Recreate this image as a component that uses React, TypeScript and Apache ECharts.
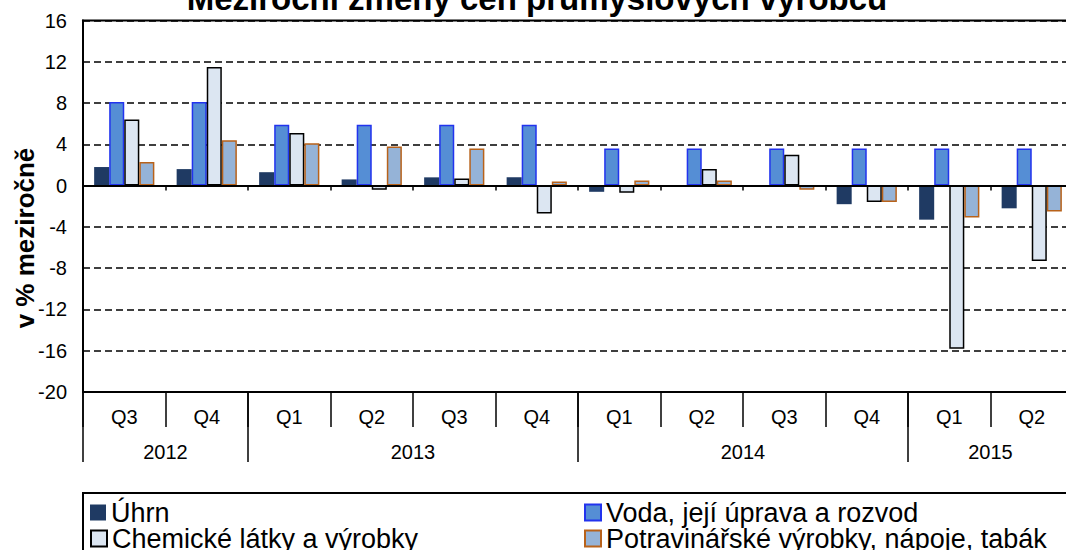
import React, { useEffect, useRef } from "react";
import * as echarts from "echarts";

const quarters = ["Q3", "Q4", "Q1", "Q2", "Q3", "Q4", "Q1", "Q2", "Q3", "Q4", "Q1", "Q2"];
const years = ["2012", "2013", "2014", "2015"];
const yearSpans = [2, 4, 4, 2];

const uhrn = [1.8, 1.6, 1.3, 0.6, 0.8, 0.8, -0.6, 0.0, 0.0, -1.8, -3.3, -2.2];
const voda = [8.1, 8.1, 5.9, 5.9, 5.9, 5.9, 3.6, 3.6, 3.6, 3.6, 3.6, 3.6];
const chem = [6.4, 11.5, 5.1, -0.4, 0.7, -2.7, -0.7, 1.6, 3.0, -1.6, -15.8, -7.3];
const potr = [2.3, 4.4, 4.1, 3.8, 3.6, 0.4, 0.5, 0.5, -0.4, -1.6, -3.1, -2.5];

const seriesNames = [
  "Úhrn",
  "Voda, její úprava a rozvod",
  "Chemické látky a výrobky",
  "Potravinářské výrobky, nápoje, tabák",
];

const FONT = "'Liberation Sans', Arial, sans-serif";

export default function App() {
  const ref = useRef<HTMLDivElement>(null);

  useEffect(() => {
    if (!ref.current) return;
    const chart = echarts.init(ref.current, null, { renderer: "svg" });

    // year axis: 2 points per quarter (boundaryGap false), labels at span centers
    const yearAxisData: string[] = new Array(quarters.length * 2 + 1).fill("");
    const yearTickIdx: number[] = [0];
    let pos = 0;
    years.forEach((y, i) => {
      yearAxisData[pos + yearSpans[i]] = y;
      pos += yearSpans[i] * 2;
      yearTickIdx.push(pos);
    });

    const mkSeries = (name: string, data: number[], style: any) => ({
      name,
      type: "bar",
      xAxisIndex: 0,
      yAxisIndex: 0,
      data,
      barGap: "0%",
      barCategoryGap: "27%",
      itemStyle: style,
    });

    const legendText = { fontSize: 27, lineHeight: 26, color: "#000", fontFamily: FONT };
    const legendPos = [
      { left: 90, top: 499 },
      { left: 584, top: 499 },
      { left: 90, top: 525 },
      { left: 584, top: 525 },
    ];

    chart.setOption({
      animation: false,
      textStyle: { fontFamily: FONT },
      grid: {
        left: 83,
        top: 20.5,
        width: 990,
        height: 371.5,
        show: true,
        borderColor: "#000",
        borderWidth: 2,
        containLabel: false,
        outerBoundsMode: "none",
      },
      graphic: [
        {
          type: "text",
          x: 537,
          y: 15,
          style: {
            text: "Meziroční změny cen průmyslových výrobců",
            font: `bold 33px ${FONT}`,
            fill: "#000",
            textAlign: "center",
            textVerticalAlign: "bottom",
          },
        },
        {
          type: "text",
          x: 25,
          y: 238,
          rotation: Math.PI / 2,
          style: {
            text: "v % meziročně",
            font: `bold 26px ${FONT}`,
            fill: "#000",
            textAlign: "center",
            textVerticalAlign: "middle",
          },
        },
        {
          type: "rect",
          shape: { x: 83, y: 493, width: 1000, height: 100 },
          style: { fill: "none", stroke: "#000", lineWidth: 2 },
        },
      ],
      legend: seriesNames.map((name, i) => ({
        left: legendPos[i].left,
        top: legendPos[i].top,
        orient: "horizontal",
        icon: "rect",
        itemWidth: 16,
        itemHeight: 16,
        itemGap: 0,
        padding: 0,
        width: 600,
        height: 40,
        data: [name],
        textStyle: legendText,
      })),
      xAxis: [
        {
          type: "category",
          data: quarters,
          axisLine: { onZero: true, lineStyle: { color: "#000", width: 2 } },
          axisTick: { show: true, length: 5, interval: 0, lineStyle: { color: "#000", width: 1.5 } },
          axisLabel: { show: false },
          splitLine: { show: false },
          z: 10,
        },
        {
          type: "category",
          data: quarters,
          position: "bottom",
          axisLine: { onZero: false, lineStyle: { color: "#000", width: 2 } },
          axisTick: { show: true, length: 35, interval: 0, lineStyle: { color: "#000", width: 1.5 } },
          axisLabel: { interval: 0, fontSize: 20, color: "#000", margin: 15, fontFamily: FONT },
          splitLine: { show: false },
        },
        {
          type: "category",
          data: yearAxisData,
          boundaryGap: false,
          position: "bottom",
          axisLine: { show: false, onZero: false },
          axisTick: {
            show: true,
            length: 70,
            interval: (idx: number) => yearTickIdx.includes(idx),
            lineStyle: { color: "#000", width: 1.5 },
          },
          axisLabel: { interval: 0, fontSize: 20, color: "#000", margin: 50, fontFamily: FONT },
          splitLine: { show: false },
        },
      ],
      yAxis: {
        type: "value",
        min: -20,
        max: 16,
        interval: 4,
        axisLine: { show: true, lineStyle: { color: "#000", width: 2 } },
        axisTick: { show: false },
        axisLabel: { fontSize: 20, color: "#000", margin: 16, fontFamily: FONT },
        splitLine: { show: true, lineStyle: { color: "#000", width: 1.5, type: [7, 4] } },
      },
      series: [
        mkSeries(seriesNames[0], uhrn, { color: "#1F3A63", borderColor: "#1F3A63", borderWidth: 0 }),
        mkSeries(seriesNames[1], voda, { color: "#558ED5", borderColor: "#2233EE", borderWidth: 1.5 }),
        mkSeries(seriesNames[2], chem, { color: "#DCE6F2", borderColor: "#000000", borderWidth: 1.5 }),
        mkSeries(seriesNames[3], potr, { color: "#95B3D7", borderColor: "#B8621A", borderWidth: 1.5 }),
      ],
    });

    return () => chart.dispose();
  }, []);

  return (
    <div
      ref={ref}
      style={{ position: "absolute", left: 0, top: 0, width: 1066, height: 550, background: "#fff" }}
    />
  );
}
